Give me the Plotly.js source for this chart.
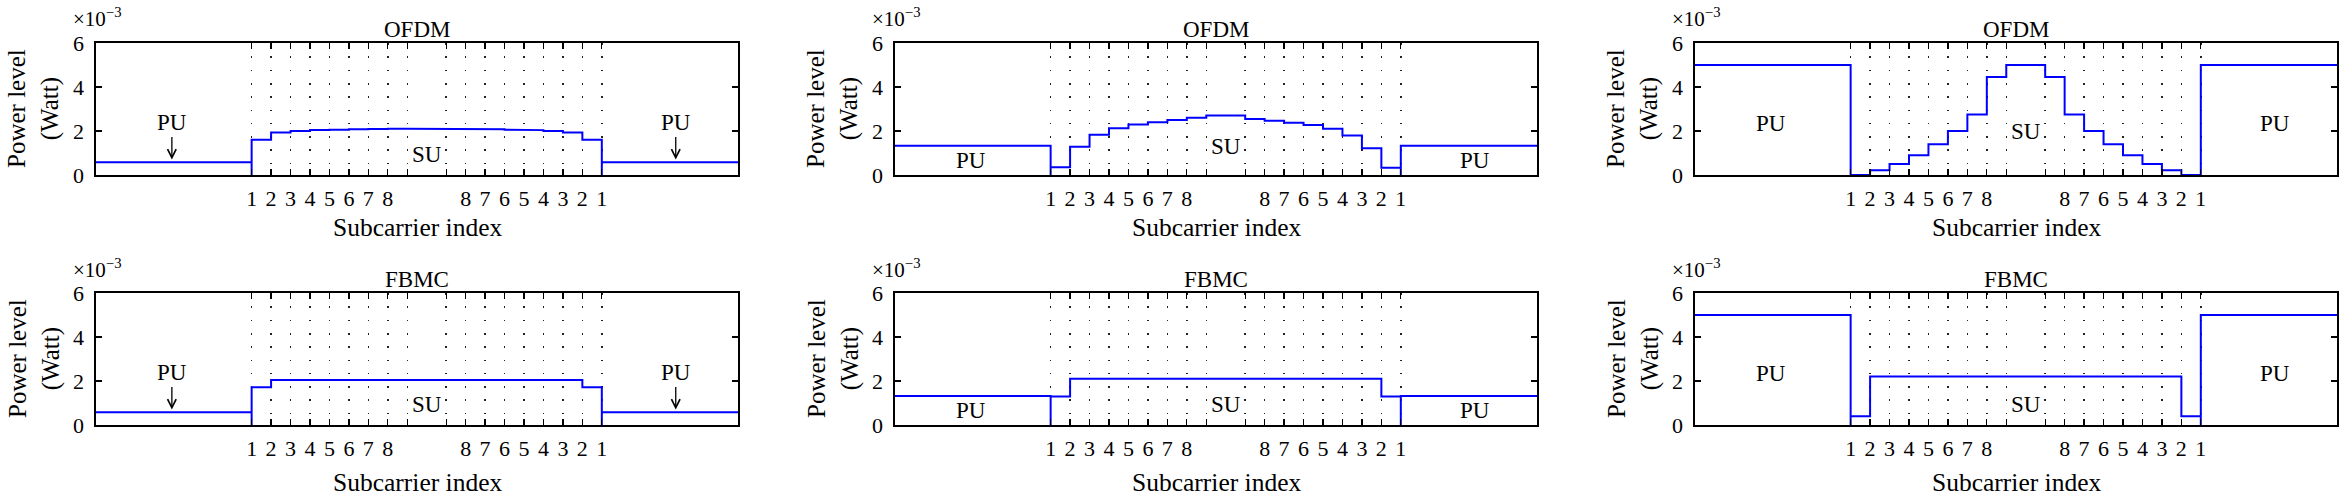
<!DOCTYPE html>
<html>
<head>
<meta charset="utf-8">
<script src="https://cdn.plot.ly/plotly-3.0.1.min.js"></script>
<style>html,body{margin:0;padding:0;background:#fff;}#chart{width:2349px;height:496px;}</style>
</head>
<body>
<div id="chart"></div>
<script>
// ---- Data (power levels in units of 10^-3 W) ----
const panelTitles = ['OFDM', 'OFDM', 'OFDM', 'FBMC', 'FBMC', 'FBMC'];
// subcarrier tick positions and labels
const tickPos  = [8, 9, 10, 11, 12, 13, 14, 15, 16, 18, 19, 20, 21, 22, 23, 24, 25, 26];
const tickText = ['1','2','3','4','5','6','7','8','','','8','7','6','5','4','3','2','1'];
// band edges (x units)
const xStart = 0, suStart = 8, suEnd = 26, xEnd = 33;

// PU power levels (left and right band) per panel
const puLevel = [0.58, 1.33, 5.0, 0.58, 1.32, 5.0];

// SU power per subcarrier (18 subcarriers) per panel
const suOFDM1 = [1.6, 1.93, 2.0, 2.04, 2.06, 2.08, 2.09, 2.1, 2.1, 2.1, 2.1, 2.09, 2.08, 2.06, 2.04, 2.0, 1.93, 1.6];
const suOFDM2 = [0.35, 1.28, 1.83, 2.13, 2.3, 2.4, 2.5, 2.6, 2.7, 2.7, 2.55, 2.47, 2.38, 2.27, 2.1, 1.8, 1.22, 0.33];
const suOFDM3 = [0.0, 0.22, 0.5, 0.9, 1.4, 2.0, 2.75, 4.45, 5.0, 5.0, 4.45, 2.75, 2.0, 1.4, 0.9, 0.5, 0.22, 0.0];
const suFBMC1 = [1.72, 2.05, 2.05, 2.05, 2.05, 2.05, 2.05, 2.05, 2.05, 2.05, 2.05, 2.05, 2.05, 2.05, 2.05, 2.05, 2.05, 1.72];
const suFBMC2 = [1.3, 2.1, 2.1, 2.1, 2.1, 2.1, 2.1, 2.1, 2.1, 2.1, 2.1, 2.1, 2.1, 2.1, 2.1, 2.1, 2.1, 1.3];
const suFBMC3 = [0.4, 2.2, 2.2, 2.2, 2.2, 2.2, 2.2, 2.2, 2.2, 2.2, 2.2, 2.2, 2.2, 2.2, 2.2, 2.2, 2.2, 0.4];
const suSeries = [suOFDM1, suOFDM2, suOFDM3, suFBMC1, suFBMC2, suFBMC3];

// label positions (y in data units)
const puLabelY = [2.4, 0.68, 2.35, 2.4, 0.68, 2.35];
const suLabelY = [0.95, 1.28, 2.0, 0.92, 0.95, 0.92];
const puHasArrow = [true, false, false, true, false, false];

// ---- Layout geometry (pixels) ----
const W = 2349, H = 496;
const colX = [[96, 738], [895, 1537], [1695, 2337]];
const rowY = [[43, 175], [293, 425]];
const FONT = 'Liberation Serif, Times New Roman, serif';

function buildPath(pu, su) {
  const x = [xStart, suStart, suStart];
  const y = [pu, pu, 0];
  for (let i = 0; i < su.length; i++) {
    x.push(suStart + i, suStart + i + 1);
    y.push(su[i], su[i]);
  }
  x.push(suEnd, suEnd, xEnd);
  y.push(0, pu, pu);
  return {x, y};
}

const traces = [];
const layout = {
  width: W, height: H, autosize: false,
  margin: {l: 0, r: 0, t: 0, b: 0},
  paper_bgcolor: '#fff', plot_bgcolor: '#fff',
  showlegend: false,
  font: {family: FONT, color: '#000', size: 20},
  annotations: []
};

for (let p = 0; p < 6; p++) {
  const r = Math.floor(p / 3), c = p % 3;
  const idx = p === 0 ? '' : String(p + 1);
  const path = buildPath(puLevel[p], suSeries[p]);
  traces.push({
    type: 'scatter', mode: 'lines', x: path.x, y: path.y,
    xaxis: 'x' + idx, yaxis: 'y' + idx,
    line: {color: '#0000ff', width: 2}, hoverinfo: 'skip'
  });
  const xd = [colX[c][0] / W, colX[c][1] / W];
  const yd = [1 - rowY[r][1] / H, 1 - rowY[r][0] / H];
  layout['xaxis' + idx] = {
    domain: xd, range: [xStart, xEnd], anchor: 'y' + idx,
    tickmode: 'array', tickvals: tickPos, ticktext: tickText,
    ticks: 'inside', ticklen: 6, tickwidth: 1.2, tickcolor: '#000',
    showline: true, linecolor: '#000', linewidth: 1.6, mirror: 'ticks',
    showgrid: true, gridcolor: '#222', gridwidth: 1.4, griddash: '1.6px,11.7px',
    zeroline: false, fixedrange: true,
    tickfont: {family: FONT, size: 22, color: '#000'}, ticklabelstandoff: 3
  };
  layout['yaxis' + idx] = {
    domain: yd, range: [0, 6], anchor: 'x' + idx,
    tickmode: 'array', tickvals: [0, 2, 4, 6], ticktext: ['0', '2', '4', '6'],
    ticks: 'inside', ticklen: 6, tickwidth: 1.2, tickcolor: '#000',
    showline: true, linecolor: '#000', linewidth: 1.6, mirror: 'ticks',
    showgrid: false, zeroline: false, fixedrange: true,
    tickfont: {family: FONT, size: 22, color: '#000'}, ticklabelstandoff: 6
  };
  const xc = (colX[c][0] + colX[c][1]) / 2 / W;
  const top = rowY[r][0], bot = rowY[r][1];
  const A = layout.annotations;
  // panel title
  A.push({xref: 'paper', yref: 'paper', x: xc, y: 1 - (top - 14) / H, text: panelTitles[p],
          showarrow: false, xanchor: 'center', yanchor: 'middle', font: {size: 23}});
  // exponent
  A.push({xref: 'paper', yref: 'paper', x: (colX[c][0] - 25) / W, y: 1 - (top - 25) / H,
          text: '×10<sup>−3</sup>', showarrow: false, xanchor: 'left', yanchor: 'middle', font: {size: 21}});
  // y title
  A.push({xref: 'paper', yref: 'paper', x: (colX[c][0] - 62) / W, y: 1 - ((top + bot) / 2) / H,
          text: 'Power level<br>(Watt)', textangle: -90, showarrow: false,
          xanchor: 'center', yanchor: 'middle', font: {size: 25}});
  // x title
  A.push({xref: 'paper', yref: 'paper', x: xc, y: 1 - (bot + (r === 0 ? 52 : 57)) / H,
          text: 'Subcarrier index', showarrow: false, xanchor: 'center', yanchor: 'middle', font: {size: 25.5}});
  // PU / SU labels
  const xr = 'x' + idx, yr = 'y' + idx;
  const puX = [(xStart + suStart) / 2 - 0.1, (suEnd + xEnd) / 2 + 0.3];
  puX.forEach(function (px) {
    A.push({xref: xr, yref: yr, x: px, y: puLabelY[p], text: 'PU', showarrow: false,
            xanchor: 'center', yanchor: 'middle', font: {size: 23}});
    if (puHasArrow[p]) {
      A.push({xref: xr, yref: yr, x: px, y: puLevel[p] + 0.12, ax: 0, ay: -24, text: '',
              showarrow: true, arrowhead: 5, arrowsize: 1.3, arrowwidth: 1.3, arrowcolor: '#000', standoff: 0});
    }
  });
  A.push({xref: xr, yref: yr, x: (suStart + suEnd) / 2, y: suLabelY[p], text: 'SU', showarrow: false,
          xanchor: 'center', yanchor: 'middle', font: {size: 23}});
}

Plotly.newPlot('chart', traces, layout, {staticPlot: true, displayModeBar: false});
</script>
</body>
</html>
